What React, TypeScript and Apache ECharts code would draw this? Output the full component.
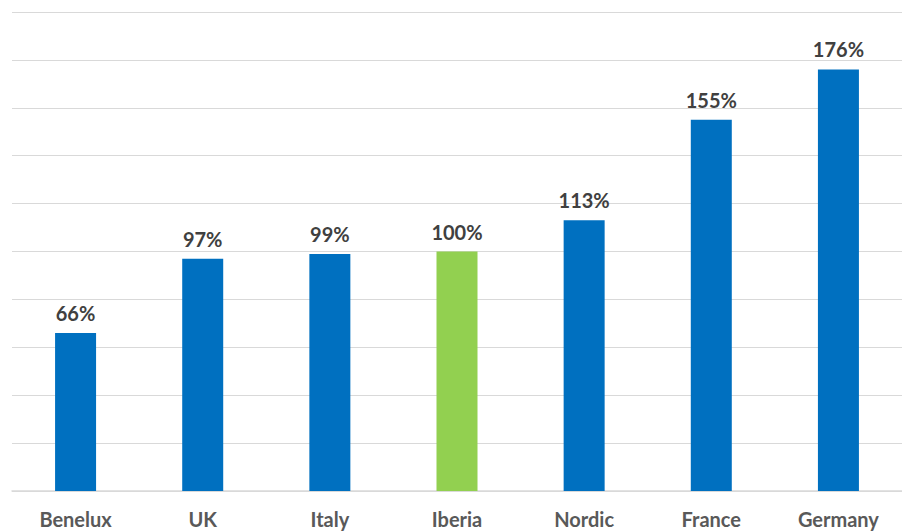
import React, { useEffect, useRef } from "react";
import * as echarts from "echarts";

const categories = ["Benelux", "UK", "Italy", "Iberia", "Nordic", "France", "Germany"];
const values = [66, 97, 99, 100, 113, 155, 176];
const highlight = "Iberia";

export default function App() {
  const ref = useRef<HTMLDivElement>(null);
  useEffect(() => {
    const chart = echarts.init(ref.current!, null, { renderer: "svg" });
    chart.setOption({
      animation: false,
      grid: { left: 12, top: 12, width: 894, bottom: 40, containLabel: false },
      xAxis: {
        type: "category",
        data: categories,
        axisTick: { show: false },
        axisLine: { lineStyle: { color: "#d9d9d9", width: 1.5 } },
        axisLabel: {
          color: "#595959",
          fontFamily: "Lato",
          fontWeight: "bold",
          fontSize: 20,
          margin: 18,
        },
      },
      yAxis: {
        type: "value",
        min: 0,
        max: 200,
        interval: 20,
        axisLabel: { show: false },
        axisLine: { show: false },
        axisTick: { show: false },
        splitLine: { lineStyle: { color: "#d9d9d9", width: 1 } },
      },
      series: [
        {
          type: "bar",
          barWidth: 41,
          data: values.map((v, i) => ({
            value: v,
            itemStyle: { color: categories[i] === highlight ? "#92d050" : "#0070c0" },
          })),
          label: {
            show: true,
            position: "top",
            distance: 10,
            formatter: "{c}%",
            color: "#404040",
            fontFamily: "Lato",
            fontWeight: "bold",
            fontSize: 20,
          },
        },
      ],
    });
    return () => chart.dispose();
  }, []);
  return <div ref={ref} style={{ width: 902, height: 531, position: "absolute", left: 0, top: 0 }} />;
}
